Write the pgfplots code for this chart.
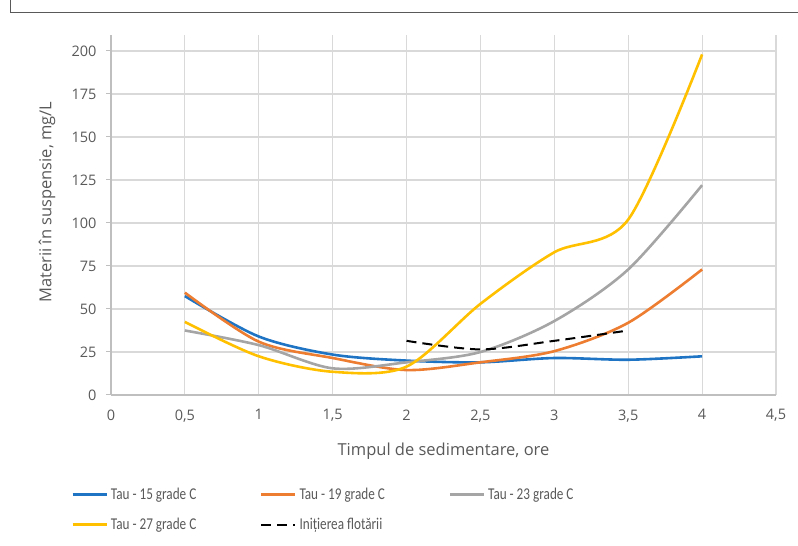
\documentclass[border=0pt]{standalone}
\usepackage{pgfplots}
\pgfplotsset{compat=1.18}
\usepackage{fontspec}
\usepackage{graphicx}
\setmainfont{Open Sans}
\newfontfamily\legfont{Carlito}
\definecolor{txt}{HTML}{595959}
\definecolor{grid}{HTML}{D9D9D9}
\definecolor{axl}{HTML}{BFBFBF}
\definecolor{cblue}{HTML}{1F74C4}
\definecolor{corange}{HTML}{ED7D31}
\definecolor{cgray}{HTML}{A5A5A5}
\definecolor{cyellow}{HTML}{FFC000}
\newcommand{\leg}[1]{\makebox[146pt][l]{\legfont\fontsize{16.5}{18}\selectfont\scalebox{0.8}[1]{#1}}}
\begin{document}
\begin{tikzpicture}[x=1pt,y=1pt]
\begin{axis}[
  at={(111pt,151pt)}, anchor=south west,
  scale only axis, width=665pt, height=360pt,
  xmin=0, xmax=4.5, ymin=0, ymax=209.3,
  xtick={0,0.5,...,4.5}, ytick={0,25,...,200},
  axis x line*=bottom, axis y line*=left,
  axis line style={draw=axl, line width=1.2pt, -},
  grid=major, major grid style={draw=grid, line width=1.2pt},
  tick align=outside, major tick length=5pt,
  x tick style={draw=none},
  y tick style={draw=axl, line width=1pt},
  xticklabel style={yshift=-6pt},
  yticklabel style={xshift=-6pt},
  tick label style={font=\fontsize{14.5}{16}\selectfont, text=txt},
  /pgf/number format/use comma, /pgf/number format/fixed, /pgf/number format/assume math mode=true,
  xlabel={Timpul de sedimentare, ore},
  ylabel={Materii în suspensie, mg/L},
  label style={font=\fontsize{16.5}{18}\selectfont, text=txt},
  xlabel style={at={(rel axis cs:0.5,0)}, anchor=center, yshift=-56pt},
  ylabel style={at={(rel axis cs:0,0.536)}, anchor=center, yshift=64pt},
  legend columns=3,
  legend cell align=left,
  legend image code/.code={\draw[#1] (0pt,0pt) -- (34pt,0pt);},
  legend style={at={(axis description cs:-0.06,-0.25)}, anchor=north west,
    draw=none, fill=none, inner sep=0pt, row sep=11pt,
    nodes={inner sep=3pt, text=txt}},
  every axis plot/.append style={line width=2.6pt, smooth, tension=0.5},
]
\addplot[cblue] coordinates {(0.5,57.5) (1,34) (1.5,23.5) (2,20) (2.5,19) (3,21.5) (3.5,20.5) (4,22.5)};
\addlegendentry{\leg{Tau - 15 grade C}}
\addplot[corange] coordinates {(0.5,59.5) (1,31) (1.5,21.5) (2,14.5) (2.5,19) (3,25.5) (3.5,42) (4,73)};
\addlegendentry{\leg{Tau - 19 grade C}}
\addplot[cgray] coordinates {(0.5,37.5) (1,29) (1.5,15.5) (2,19) (2.5,25) (3,43) (3.5,73) (4,122)};
\addlegendentry{\leg{Tau - 23 grade C}}
\addplot[cyellow] coordinates {(0.5,42.5) (1,22.5) (1.5,13.5) (2,16.5) (2.5,53) (3,83) (3.5,102) (4,198)};
\addlegendentry{\leg{Tau - 27 grade C}}
\addplot[black, line width=2pt, dash pattern=on 10pt off 6pt] coordinates {(2,31.5) (2.5,26.5) (3,31.5) (3.5,37.5)};
\addlegendentry{\leg{Inițierea flotării}}
\end{axis}
\draw[txt, line width=1.5pt] (10.5,546) -- (10.5,533.5) -- (798,533.5);
\pgfresetboundingbox
\path[use as bounding box] (0,0) rectangle (798,546);
\end{tikzpicture}
\end{document}
